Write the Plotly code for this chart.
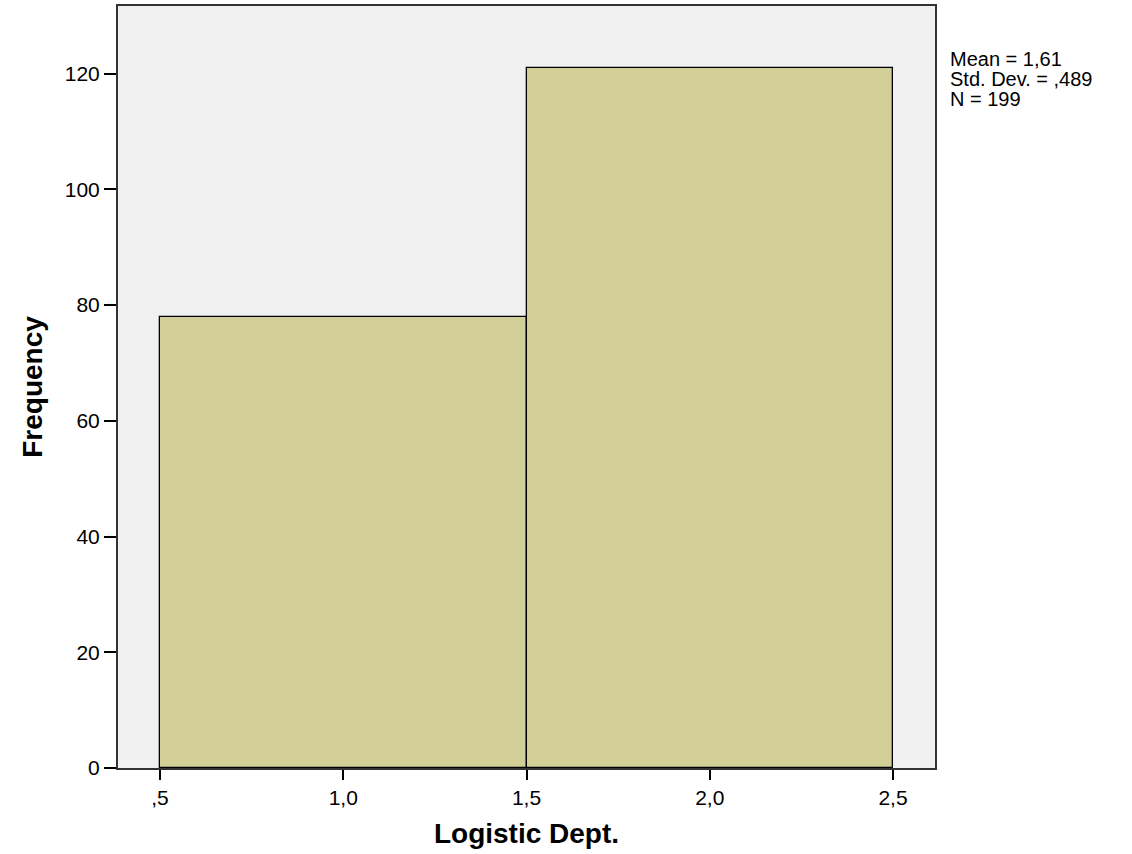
import plotly.graph_objects as go

bin_centers = [1.0, 2.0]
frequencies = [78, 121]
bin_width = 1.0
x_tickvals = [0.5, 1.0, 1.5, 2.0, 2.5]
x_ticktext = [",5", "1,0", "1,5", "2,0", "2,5"]
y_tickvals = [0, 20, 40, 60, 80, 100, 120]
stats_lines = ["Mean = 1,61", "Std. Dev. = ,489", "N = 199"]

fig = go.Figure()
fig.add_trace(go.Bar(
    x=bin_centers, y=frequencies, width=[bin_width] * len(bin_centers),
    marker=dict(color="#D2CE98", line=dict(color="#000000", width=1.3)),
    showlegend=False, hoverinfo="x+y",
))

font_family = "Arial, Liberation Sans, sans-serif"
annotations = []
for i, line in enumerate(stats_lines):
    annotations.append(dict(
        xref="paper", yref="paper", x=1.016, y=0.9306 - i * 0.0262,
        xanchor="left", yanchor="middle",
        text=line, showarrow=False, align="left",
        font=dict(size=20, family=font_family, color="#000000"),
    ))

fig.update_layout(
    width=1132, height=854,
    margin=dict(l=118, r=197, t=4, b=86),
    paper_bgcolor="white", plot_bgcolor="#F0F0F0",
    bargap=0,
    font=dict(family=font_family, color="#000000", size=20),
    xaxis=dict(
        range=[0.3854, 2.6146], tickvals=x_tickvals, ticktext=x_ticktext,
        ticks="outside", ticklen=10, tickwidth=1.6, tickcolor="#000000",
        showgrid=False, zeroline=False, showline=True, linecolor="#333333",
        linewidth=2, mirror=True,
        tickfont=dict(size=21, family=font_family),
        title=dict(text="<b>Logistic Dept.</b>", font=dict(size=28, family=font_family), standoff=15),
    ),
    yaxis=dict(
        range=[0, 131.7], tickvals=y_tickvals,
        ticks="outside", ticklen=12, tickwidth=1.6, tickcolor="#000000",
        showgrid=False, zeroline=False, showline=True, linecolor="#333333",
        linewidth=2, mirror=True,
        tickfont=dict(size=21, family=font_family),
        title=dict(text="<b>Frequency</b>", font=dict(size=28, family=font_family), standoff=14),
    ),
    annotations=annotations,
)

fig.write_html(
    "out.html",
    config={"displayModeBar": False},
    post_script="document.body.style.margin='0';document.body.style.overflow='hidden';",
)
